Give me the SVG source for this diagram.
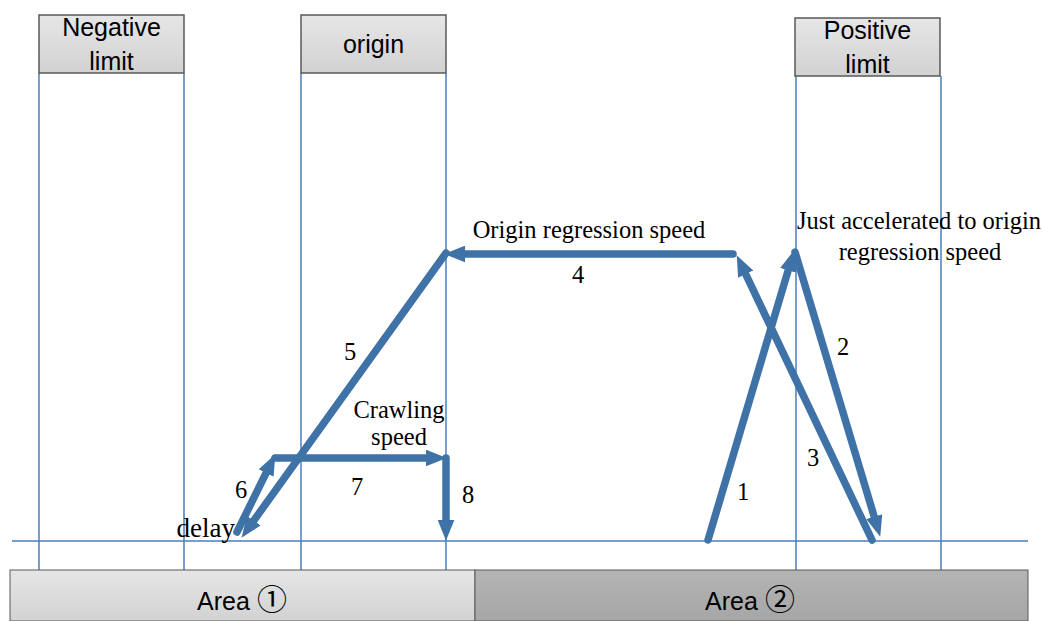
<svg xmlns="http://www.w3.org/2000/svg" width="1043" height="621" viewBox="0 0 1043 621">
<defs>
<linearGradient id="gLight" x1="0" y1="0" x2="0" y2="1"><stop offset="0" stop-color="#e6e6e6"/><stop offset="1" stop-color="#d2d2d2"/></linearGradient>
<linearGradient id="gDark" x1="0" y1="0" x2="0" y2="1"><stop offset="0" stop-color="#b4b4b4"/><stop offset="1" stop-color="#a6a6a6"/></linearGradient>
<marker id="ah" viewBox="0 0 20 16" refX="4" refY="8" markerWidth="21" markerHeight="17" markerUnits="userSpaceOnUse" orient="auto"><path d="M0,0 L20,8 L0,16 z" fill="#3f72a7"/></marker>
</defs>
<style>
.guide{stroke:#4a7ebb;stroke-width:1.5;fill:none}
.box{fill:url(#gLight);stroke:#595959;stroke-width:1.5}
.sans{font-family:"Liberation Sans","DejaVu Sans",sans-serif;font-size:25px;fill:#000;text-anchor:middle}
.circ{font-family:"Noto Sans CJK SC","DejaVu Sans",sans-serif;font-size:30px}
.serif{font-family:"Liberation Serif","DejaVu Serif",serif;font-size:24.5px;fill:#000;text-anchor:middle}
.arr{stroke:#3f72a7;stroke-width:7.5;fill:none;stroke-linecap:round;marker-end:url(#ah)}
</style>
<rect width="1043" height="621" fill="#fff"/>
<g id="guides">
<line class="guide" x1="39" y1="73" x2="39" y2="570"/>
<line class="guide" x1="184" y1="73" x2="184" y2="570"/>
<line class="guide" x1="301" y1="73" x2="301" y2="570"/>
<line class="guide" x1="446" y1="73" x2="446" y2="570"/>
<line class="guide" x1="796" y1="76" x2="796" y2="570"/>
<line class="guide" x1="941" y1="76" x2="941" y2="570"/>
<line class="guide" x1="12" y1="541" x2="1028" y2="541"/>
</g>
<g id="negative-limit">
<rect class="box" x="39" y="15" width="145" height="58"/>
<text class="sans" x="111.5" y="36">Negative</text>
<text class="sans" x="111.5" y="70">limit</text>
</g>
<g id="origin">
<rect class="box" x="301" y="15" width="145" height="58"/>
<text class="sans" x="373.5" y="53">origin</text>
</g>
<g id="positive-limit">
<rect class="box" x="795" y="18" width="145" height="58"/>
<text class="sans" x="867.5" y="39">Positive</text>
<text class="sans" x="867.5" y="73">limit</text>
</g>
<g id="area1">
<rect x="10" y="570" width="465" height="51" fill="url(#gLight)" stroke="#595959" stroke-width="1"/>
<text class="sans" x="242" y="610">Area <tspan class="circ">①</tspan></text>
</g>
<g id="area2">
<rect x="475" y="570" width="553" height="51" fill="url(#gDark)" stroke="#595959" stroke-width="1"/>
<text class="sans" x="750" y="610">Area <tspan class="circ">②</tspan></text>
</g>
<g id="connectors">
<line class="arr" x1="708" y1="540" x2="789.4" y2="266.3"/>
<line class="arr" x1="795" y1="252" x2="875.4" y2="520.7"/>
<line class="arr" x1="872" y1="540" x2="743.9" y2="270.4"/>
<line class="arr" x1="733" y1="254" x2="461" y2="254"/>
<line class="arr" x1="446" y1="253" x2="251.3" y2="524"/>
<line class="arr" x1="237" y1="532" x2="267.9" y2="469.3"/>
<line class="arr" x1="275" y1="458" x2="430" y2="458"/>
<line class="arr" x1="446" y1="458" x2="446" y2="524"/>
</g>
<g id="labels">
<text class="serif" x="589" y="238">Origin regression speed</text>
<text class="serif" x="578" y="283">4</text>
<text class="serif" x="919" y="229">Just accelerated to origin</text>
<text class="serif" x="920" y="260">regression speed</text>
<text class="serif" x="843" y="355">2</text>
<text class="serif" x="813" y="466">3</text>
<text class="serif" x="743" y="500">1</text>
<text class="serif" x="350" y="360">5</text>
<text class="serif" x="399" y="418">Crawling</text>
<text class="serif" x="399" y="445">speed</text>
<text class="serif" x="241" y="498">6</text>
<text class="serif" x="357" y="495">7</text>
<text class="serif" x="468" y="503">8</text>
<text class="serif" x="235" y="537" style="font-size:27px;text-anchor:end">delay</text>
</g>
</svg>
